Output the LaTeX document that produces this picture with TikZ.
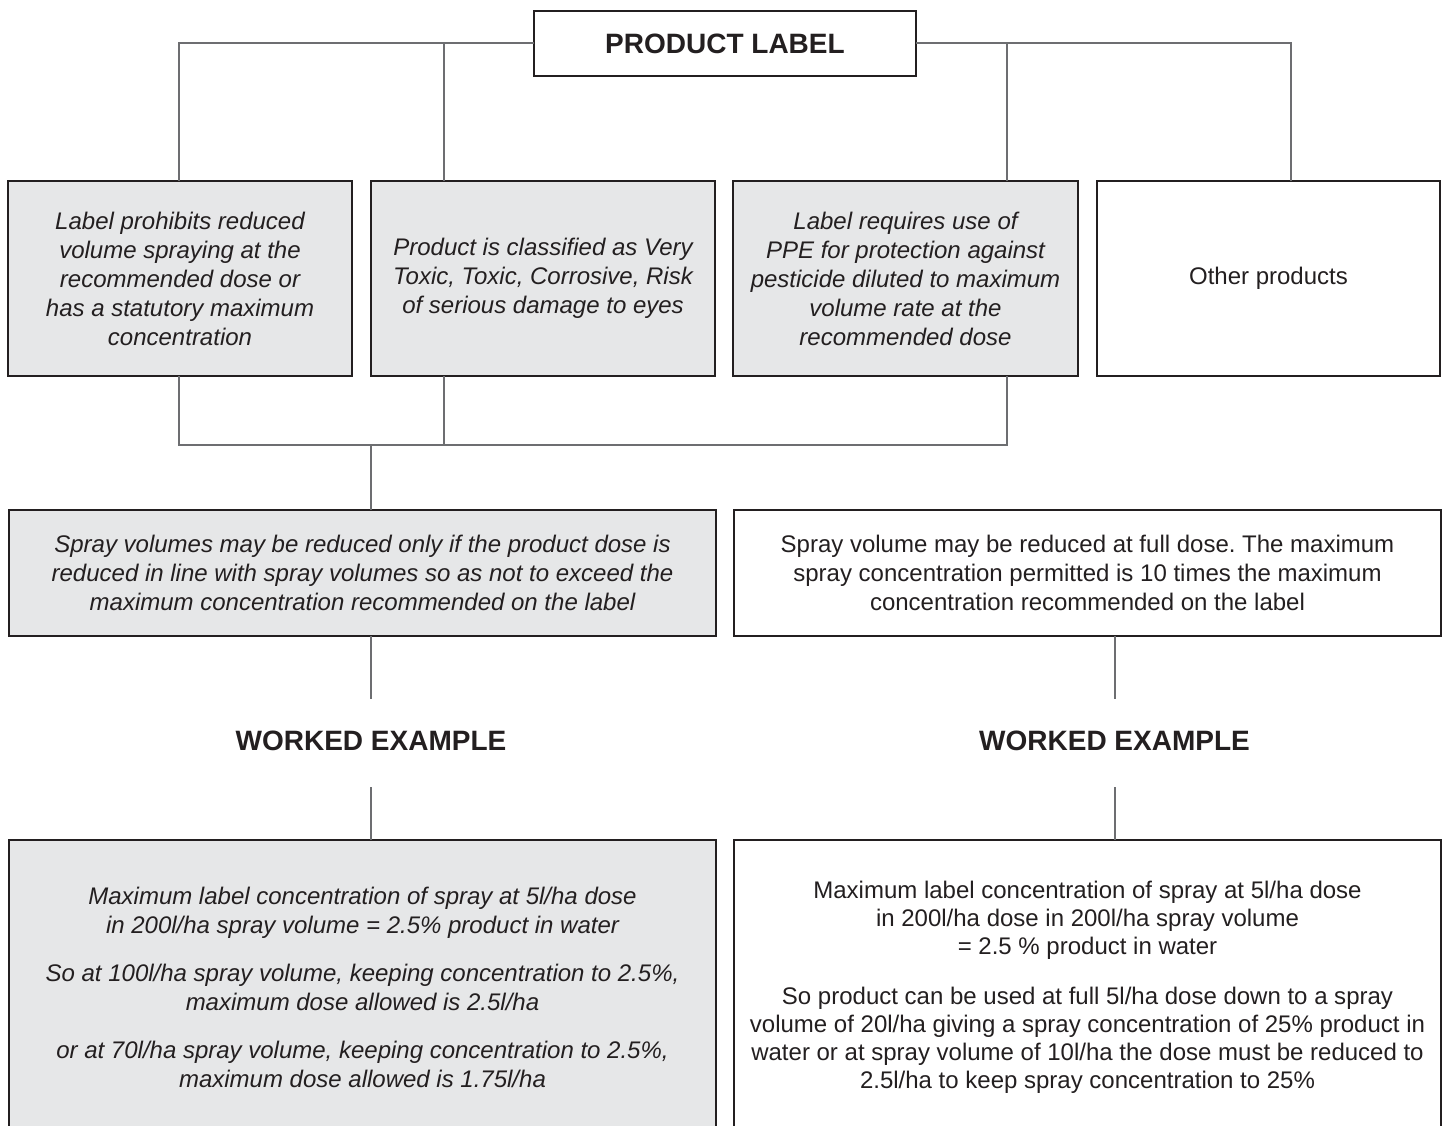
\documentclass[tikz,border=0pt]{standalone}
\usepackage{fontspec}
\setmainfont{Liberation Sans}
\frenchspacing
\definecolor{boxgray}{HTML}{E6E7E8}
\definecolor{edgecol}{HTML}{231F20}
\definecolor{conn}{HTML}{6D6E71}
\begin{document}
\begin{tikzpicture}[x=1pt,y=-1pt,
  basebox/.style={draw=edgecol, line width=2.8pt, inner sep=0pt, outer sep=0pt, align=center, text=edgecol,
    font=\fontsize{24}{29}\selectfont},
  graybox/.style={basebox, fill=boxgray, font=\fontsize{24}{29}\selectfont\itshape},
  whitebox/.style={basebox, fill=white},
  heading/.style={inner sep=0pt, text=edgecol, font=\fontsize{28}{33}\selectfont\bfseries},
  conline/.style={draw=conn, line width=2pt}]
\useasboundingbox (0,0) rectangle (1445,1126);

% top box
\node[whitebox, heading, draw=edgecol, line width=2.8pt, minimum width=382pt, minimum height=65pt] (plabel) at (725,43.5) {PRODUCT LABEL};

% first row
\node[graybox, minimum width=344pt, minimum height=195pt] (b1) at (180,278.5)
  {Label prohibits reduced\\volume spraying at the\\recommended dose or\\has a statutory maximum\\concentration};
\node[graybox, minimum width=344pt, minimum height=195pt] (b2) at (543,278.5)
  {Product is classified as Very\\Toxic, Toxic, Corrosive, Risk\\of serious damage to eyes};
\node[graybox, minimum width=345pt, minimum height=195pt] (b3) at (905.5,278.5)
  {Label requires use of\\PPE for protection against\\pesticide diluted to maximum\\volume rate at the\\recommended dose};
\node[whitebox, minimum width=343pt, minimum height=195pt] (b4) at (1268.5,278.5)
  {Other products};

% second row
\node[graybox, minimum width=707pt, minimum height=126pt] (b5) at (362.5,573)
  {Spray volumes may be reduced only if the product dose is\\reduced in line with spray volumes so as not to exceed the\\maximum concentration recommended on the label};
\node[whitebox, minimum width=707pt, minimum height=126pt] (b6) at (1087.5,573)
  {Spray volume may be reduced at full dose. The maximum\\spray concentration permitted is 10 times the maximum\\concentration recommended on the label};

% worked example headings
\node[heading] (w1) at (371,741) {WORKED EXAMPLE};
\node[heading] (w2) at (1114.5,741) {WORKED EXAMPLE};

% bottom boxes
\node[graybox, minimum width=707pt, minimum height=294pt] (b7) at (362.5,987)
  {Maximum label concentration of spray at 5l/ha dose\\in 200l/ha spray volume = 2.5\% product in water\\[19pt]
   So at 100l/ha spray volume, keeping concentration to 2.5\%,\\maximum dose allowed is 2.5l/ha\\[19pt]
   or at 70l/ha spray volume, keeping concentration to 2.5\%,\\maximum dose allowed is 1.75l/ha};
\node[whitebox, minimum width=707pt, minimum height=294pt, font=\fontsize{24}{28}\selectfont] (b8) at (1087.5,987)
  {Maximum label concentration of spray at 5l/ha dose\\in 200l/ha dose in 200l/ha spray volume\\= 2.5 \% product in water\\[22pt]
   So product can be used at full 5l/ha dose down to a spray\\volume of 20l/ha giving a spray concentration of 25\% product in\\water or at spray volume of 10l/ha the dose must be reduced to\\2.5l/ha to keep spray concentration to 25\%};

% connector coordinates
\coordinate (tl) at (178.5,43.5);
\coordinate (t2) at (443.5,43.5);
\coordinate (t3) at (1006.5,43.5);
\coordinate (tr) at (1291,43.5);
\coordinate (j1) at (178.5,445);
\coordinate (j2) at (443.5,445);
\coordinate (j3) at (1006.5,445);
\coordinate (jm) at (371,445);
\coordinate (s1) at (371,699);
\coordinate (s2) at (1114.5,699);
\coordinate (u1) at (371,787);
\coordinate (u2) at (1114.5,787);

% top connectors
\draw[conline] (plabel.west) -- (tl) -- (tl |- b1.north);
\draw[conline] (t2) -- (t2 |- b2.north);
\draw[conline] (plabel.east) -- (tr) -- (tr |- b4.north);
\draw[conline] (t3) -- (t3 |- b3.north);

% merge connectors
\draw[conline] (j1 |- b1.south) -- (j1) -- (j3) -- (j3 |- b3.south);
\draw[conline] (j2 |- b2.south) -- (j2);
\draw[conline] (jm) -- (jm |- b5.north);

% lower stubs
\draw[conline] (s1 |- b5.south) -- (s1);
\draw[conline] (s2 |- b6.south) -- (s2);
\draw[conline] (u1) -- (u1 |- b7.north);
\draw[conline] (u2) -- (u2 |- b8.north);
\end{tikzpicture}
\end{document}
